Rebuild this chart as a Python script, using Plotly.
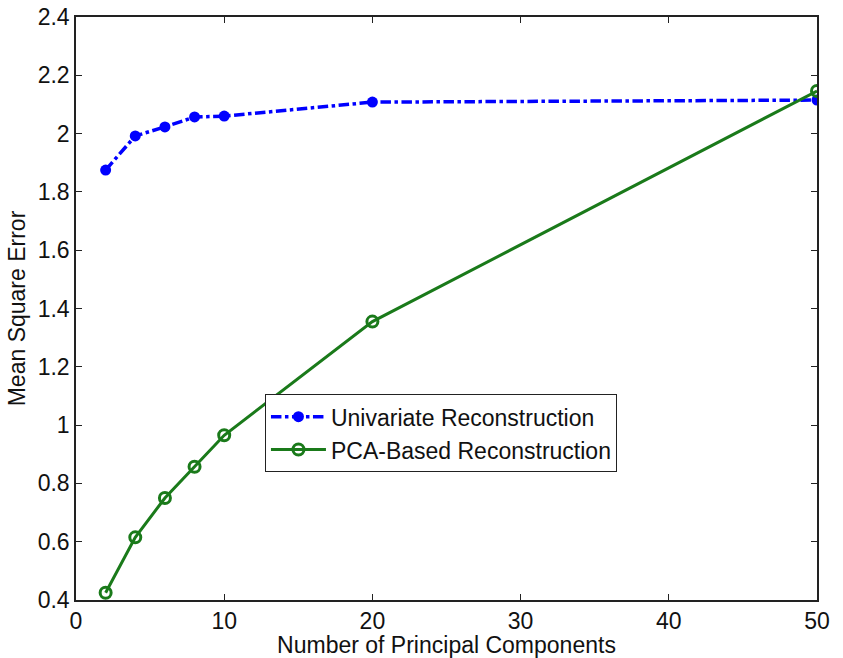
import plotly.graph_objects as go

n_components = [2, 4, 6, 8, 10, 20, 50]
univariate_mse = [1.875, 1.992, 2.023, 2.057, 2.060, 2.108, 2.115]
pca_mse = [0.425, 0.615, 0.750, 0.857, 0.965, 1.355, 2.146]

x_ticks = [0, 10, 20, 30, 40, 50]
y_ticks = [0.4, 0.6, 0.8, 1.0, 1.2, 1.4, 1.6, 1.8, 2.0, 2.2, 2.4]
y_tick_text = ["0.4", "0.6", "0.8", "1", "1.2", "1.4", "1.6", "1.8", "2", "2.2", "2.4"]

FONT = "Liberation Sans, Arial"

fig = go.Figure()
fig.add_trace(go.Scatter(
    x=n_components, y=univariate_mse, mode="lines+markers",
    name="Univariate Reconstruction",
    line=dict(color="#0000ff", width=3.5, dash="dashdot"),
    marker=dict(symbol="circle", size=11, color="#0000ff"),
))
fig.add_trace(go.Scatter(
    x=n_components, y=pca_mse, mode="lines+markers",
    name="PCA-Based Reconstruction",
    line=dict(color="#1a7a1a", width=3),
    marker=dict(symbol="circle-open", size=11, color="#1a7a1a", line=dict(width=3)),
))

axis_common = dict(
    showgrid=False, zeroline=False, showline=True, linecolor="#222222", linewidth=1.5,
    mirror="ticks", ticks="inside", ticklen=6, tickcolor="#222222", tickwidth=1,
    tickfont=dict(family=FONT, size=23, color="#111111"), automargin=False,
)

fig.update_xaxes(range=[0, 50], tickvals=x_ticks, ticktext=[str(t) for t in x_ticks],
                 title=dict(text="Number of Principal Components", standoff=6,
                            font=dict(family=FONT, size=23, color="#111111")),
                 **axis_common)
fig.update_yaxes(range=[0.4, 2.4], tickvals=y_ticks, ticktext=y_tick_text,
                 title=dict(text="Mean Square Error", standoff=6,
                            font=dict(family=FONT, size=23, color="#111111")),
                 **axis_common)

fig.update_layout(
    width=843, height=658,
    margin=dict(l=76, r=26, t=17, b=58),
    paper_bgcolor="white", plot_bgcolor="white",
    legend=dict(x=0.255, y=0.353, xanchor="left", yanchor="top",
                bgcolor="white", bordercolor="#222222", borderwidth=1,
                font=dict(family=FONT, size=23, color="#111111"),
                itemwidth=55, tracegroupgap=0),
    showlegend=True,
)

fig.write_html("out.html")
